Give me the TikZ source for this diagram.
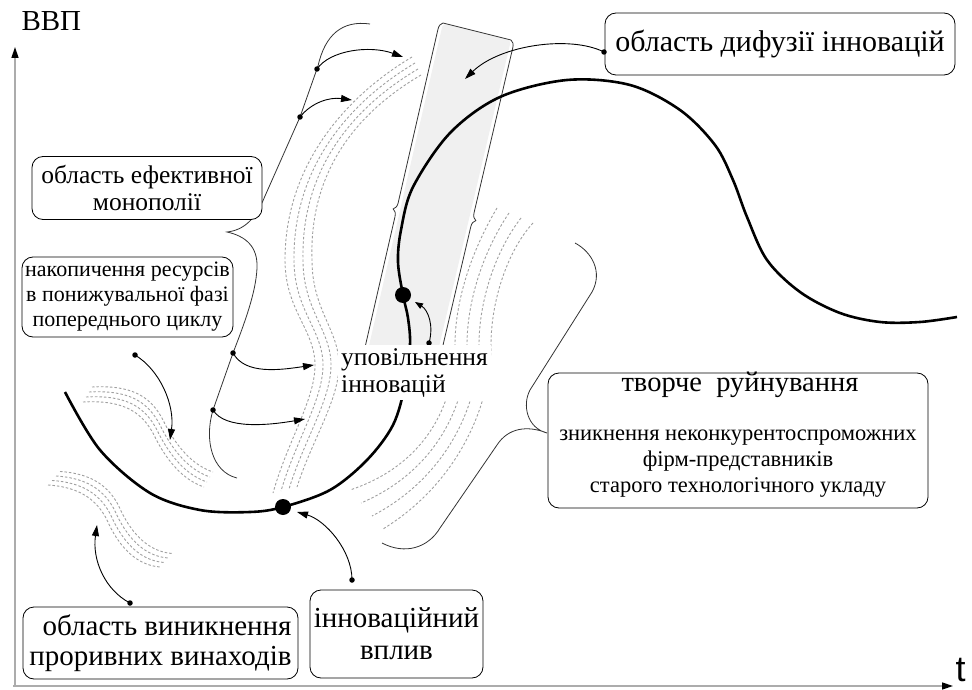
\documentclass[tikz,border=0pt]{standalone}
\usepackage{fontspec}
\setmainfont{Liberation Serif}
\newfontfamily\arialf{Liberation Sans}
\usetikzlibrary{arrows.meta,decorations.pathreplacing}
\newcommand\fszDif{\fontsize{30}{32}\selectfont}
\newcommand\fszBig{\fontsize{29}{30}\selectfont}
\newcommand\fszTitle{\fontsize{28.5}{30}\selectfont}
\newcommand\fszMono{\fontsize{25.5}{27}\selectfont}
\newcommand\fszSmall{\fontsize{22}{25}\selectfont}
\newcommand\fszBody{\fontsize{22.5}{26}\selectfont}
\newcommand\fszUp{\fontsize{25.5}{27}\selectfont}
\begin{document}
\begin{tikzpicture}[x=1pt,y=-1pt,
  box/.style={draw, rounded corners=11pt, fill=white, line width=0.8pt, align=center, inner sep=0pt},
  thinl/.style={line width=0.8pt, black!80},
  dots/.style={gray!75, line width=0.9pt, dash pattern=on 2.5pt off 2pt},
  arr/.style={line width=0.9pt, -{Triangle[length=11pt,width=7pt]}},
  dotmark/.style={circle, fill, inner sep=0pt, minimum size=5.5pt},
  bigdot/.style={circle, fill, inner sep=0pt, minimum size=16pt},
  axis/.style={gray!65, line width=1.5pt, -{Triangle[length=11pt,width=7pt,black]}},
]
\useasboundingbox (0,0) rectangle (972,690);

% axes
\coordinate (o) at (15,687);
\coordinate (ytop) at (15,47);
\coordinate (xend) at (953,686);
\draw[axis] (o) -- (ytop);
\draw[axis] (13,686) -- (xend);
\node[font=\fszBig, anchor=west] (ylab) at (18,21) {ВВП};
\node[font=\arialf\fontsize{36}{36}\selectfont, anchor=west] (xlab) at (952,670) {t};

% diffusion band
\fill[gray!12, rounded corners=4pt] (443,23) -- (511,40) -- (427,398) -- (357,398) -- cycle;
\draw[thinl, decorate, decoration={brace, amplitude=7pt}] (357,398) -- (443,23);
\draw[thinl, decorate, decoration={brace, amplitude=7pt}] (511,40) -- (427,398);
\draw[thinl] (443,23) -- (511,40);

% dotted groups
\foreach \k in {0,...,3}{
  \draw[dots] ({48+4*\k},{485-4.5*\k}) .. controls ({80+4*\k},{487-4.5*\k}) and ({97+4*\k},{500-4.5*\k}) .. ({107+4*\k},{520-4.5*\k}) .. controls ({118+4*\k},{545-4.5*\k}) and ({135+4*\k},{565-4.5*\k}) .. ({160+4*\k},{567-4.5*\k});
  \draw[dots] ({92-3*\k},{387+5*\k}) .. controls ({130-3*\k},{385+5*\k}) and ({150-3*\k},{395+5*\k}) .. ({163-3*\k},{420+5*\k}) .. controls ({175-3*\k},{445+5*\k}) and ({192-3*\k},{465+5*\k}) .. ({213-3*\k},{472+5*\k});
  \draw[dots] ({412+3*\k},{57+6*\k}) .. controls ({340+6*\k},{100+4*\k}) and ({285+8*\k},170) .. ({285+9*\k},260) .. controls ({285+9*\k},310) and ({315+8*\k},330) .. ({315+8*\k},365) .. controls ({315+8*\k},400) and ({288+8*\k},440) .. ({273+8*\k},{493-2*\k});
  \draw[dots] ({497+12*\k},{208+5*\k}) .. controls ({472+12*\k},250) and ({455+12*\k},300) .. ({455+12*\k},345) .. controls ({455+12*\k},405) and ({425+11*\k},{465+6*\k}) .. ({350+11*\k},{490+13*\k});
}

% big left brace
\draw[thinl] (370,24) .. controls (342,20) and (325,35) .. (318,66) -- (300,117) -- (265,196) .. controls (256,218) and (245,230) .. (227,232) .. controls (245,236) and (258,246) .. (257,268) .. controls (256,292) and (245,322) .. (233,353) -- (213,410) .. controls (204,440) and (212,472) .. (237,478);
% right brace
\draw[thinl] (575,243) .. controls (592,252) and (603,272) .. (592,292) -- (530,390) .. controls (522,405) and (527,428) .. (547,433) .. controls (527,425) and (508,428) .. (497,445) -- (440,528) .. controls (428,548) and (405,555) .. (382,543);

% main cycle curve
\draw[line width=2.6pt] plot[smooth, tension=0.55] coordinates {(65,392) (100,450) (150,493) (200,510) (250,512) (283,507) (330,490) (367,460) (393,425) (405,385) (410,345) (408,318) (403,295) (398,262) (401,230) (413,187) (450,133) (500,97) (567,80) (630,85) (680,110) (715,145) (733,180) (747,217) (767,260) (800,292) (840,313) (880,322) (920,322) (957,317)};
\node[bigdot] (dotL) at (283,507) {};
\node[bigdot] (dotU) at (403,295) {};

% arrows from the left brace
\node[dotmark] (pA1) at (317,69) {};
\node[dotmark] (pA2) at (300,117) {};
\node[dotmark] (pA3) at (233,353) {};
\node[dotmark] (pA4) at (213,410) {};
\coordinate (tA1) at (403,57);
\coordinate (tA2) at (352,100);
\coordinate (tA3) at (314,365);
\coordinate (tA4) at (305,419);
\draw[arr] (pA1.center) .. controls (330,50) and (370,45) .. (tA1);
\draw[arr] (pA2.center) .. controls (312,102) and (330,97) .. (tA2);
\draw[arr] (pA3.center) .. controls (245,375) and (280,370) .. (tA3);
\draw[arr] (pA4.center) .. controls (225,430) and (270,425) .. (tA4);

% small arrow to upper dot
\node[dotmark] (pU) at (429,343) {};
\coordinate (tU) at (415,302);
\draw[arr, -{Triangle[length=8pt,width=6pt]}] (pU.center) .. controls (434,325) and (428,310) .. (tU);

% label
\node[fill=white, align=left, inner sep=3pt, font=\fszUp, anchor=north west] (upov) at (338,345) {уповільнення\\інновацій};

% boxes
\node[box, minimum width=350pt, minimum height=62pt, font=\fszDif] (dif) at (780,44) {область дифузії інновацій};
\node[box, minimum width=230pt, minimum height=63pt, font=\fszMono] (mono) at (147,188) {область ефективної\\монополії};
\node[box, minimum width=211pt, minimum height=80pt, font=\fszSmall] (nak) at (127.5,297) {накопичення ресурсів\\в понижувальної фазі\\попереднього циклу};
\node[box, minimum width=275pt, minimum height=72pt, font=\fszBig, align=right] (vyn) at (160.5,643) {область виникнення\\проривних винаходів};
\node[box, minimum width=173pt, minimum height=88pt, font=\fszBig] (vpl) at (396.5,634) {інноваційний\\[2pt]вплив};
\node[box, minimum width=380pt, minimum height=135pt] (tvor) at (738,440.5) {};
\node[font=\fszTitle] (tvorT) at (740,385) {творче~~руйнування};
\node[font=\fszBody, align=center] (tvorB) at (738,464) {зникнення неконкурентоспроможних\\фірм-представників\\старого технологічного укладу};

% arrows from boxes
\node[dotmark] (pDif) at (604,52) {};
\coordinate (tDif) at (465,79);
\draw[arr] (pDif.center) .. controls (570,35) and (500,45) .. (tDif);
\node[dotmark] (pNak) at (135,355) {};
\coordinate (tNak) at (170,440);
\draw[arr] (pNak.center) .. controls (160,370) and (175,405) .. (tNak);
\node[dotmark] (pVyn) at (130,603) {};
\coordinate (tVyn) at (97,525);
\draw[arr] (pVyn.center) .. controls (105,590) and (92,560) .. (tVyn);
\node[dotmark] (pVpl) at (352,580) {};
\coordinate (tVpl) at (297,512);
\draw[arr] (pVpl.center) .. controls (352,550) and (325,520) .. (tVpl);
\end{tikzpicture}
\end{document}
